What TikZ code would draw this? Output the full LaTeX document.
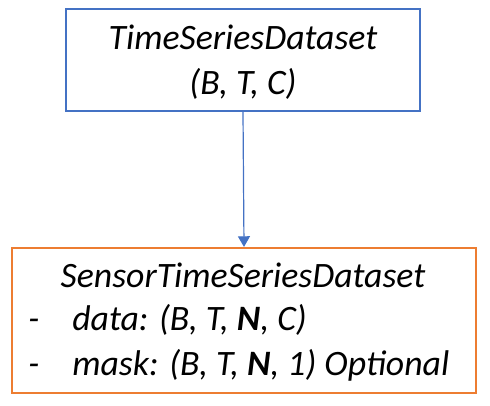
\documentclass[tikz,border=0pt]{standalone}
\usepackage{fontspec}
\setmainfont{Carlito}
\usetikzlibrary{arrows.meta}
\definecolor{boxblue}{HTML}{4472C4}
\definecolor{boxorange}{HTML}{ED7D31}
\begin{document}
\begin{tikzpicture}[x=0.75pt,y=-0.75pt,
  txt/.style={inner sep=0pt,font=\fontsize{26.8}{32}\selectfont\itshape},
  bluebox/.style={draw=boxblue,line width=1.6pt,minimum width=265.5pt,minimum height=76.5pt,inner sep=0pt},
  orangebox/.style={draw=boxorange,line width=1.6pt,minimum width=348pt,minimum height=108.75pt,inner sep=0pt},
  link/.style={draw=boxblue,line width=0.9pt,-{Triangle[length=8pt,width=9pt]}}]
\useasboundingbox (0,0) rectangle (490,405);
\node[bluebox] (top) at (243,60) {};
\node[orangebox] (bot) at (244,320.5) {};
\node[txt,anchor=base] (t1) at (243,49) {TimeSeriesDataset};
\node[txt,anchor=base] (t2) at (243,94) {(B, T, C)};
\node[txt,anchor=base] (s1) at (243,287) {SensorTimeSeriesDataset};
\node[txt,anchor=base west] (d1) at (28,330) {-};
\node[txt,anchor=base west] (d2) at (28,375) {-};
\node[txt,anchor=base west] (s2) at (72,330) {data: (B, T, \textbf{N}, C)};
\node[txt,anchor=base west] (s3) at (72,375) {mask: (B, T, \textbf{N}, 1) Optional};
\draw[link] (top.south) -- (bot.north);
\end{tikzpicture}
\end{document}
